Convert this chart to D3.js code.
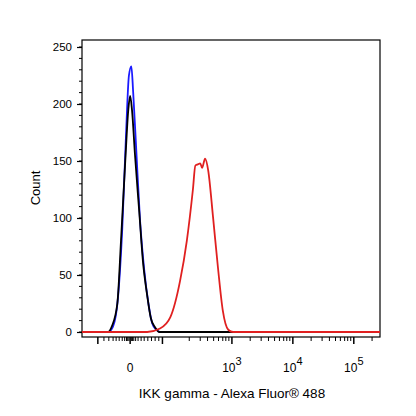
<!DOCTYPE html>
<html><head><meta charset="utf-8">
<script src="https://cdn.jsdelivr.net/npm/d3@7"></script>
<style>body{margin:0;background:#fff}text{font-family:"Liberation Sans",Arial,sans-serif}</style>
</head><body><svg id="c" width="416" height="416"></svg>
<script>
// x values are in display units: 10^3 = 3, 10^4 = 4, 10^5 = 5, "0" = 1.33
var blueX=[0.54,0.97,1.05,1.13,1.20,1.26,1.31,1.35,1.38,1.43,1.49,1.56,1.63,1.69,1.76,1.82,5.43];
var blueY=[0,0,5,30,90,170,225,233,210,160,100,55,25,8,2,0,0];
var blackX=[0.54,0.97,1.03,1.12,1.18,1.25,1.30,1.33,1.36,1.41,1.48,1.54,1.61,1.67,1.74,1.81,5.43];
var blackY=[0,0,5,25,80,150,195,207,195,155,105,62,32,12,4,0,0];
var redX=[0.54,1.61,1.82,1.99,2.15,2.26,2.36,2.40,2.44,2.48,2.51,2.56,2.61,2.69,2.77,2.85,2.94,3.02,5.43];
var redY=[0,0,3,13,45,80,125,146,147,148,144,152,142,101,57,19,2,0,0];
var yTicks=[0,50,100,150,200,250];
var xMajor=[0.8,1.33,1.86,3,4,5];
var xLabels=[[1.33,"0",null],[3,"10","3"],[4,"10","4"],[5,"10","5"]];
var xMinor=[0.9,0.98,1.05,1.1,1.15,1.2,1.24,1.27,1.29,1.31,1.35,1.37,1.39,1.42,1.46,1.51,1.56,1.62,1.68,1.74,1.8,
  2.3,2.48,2.6,2.7,2.78,2.85,2.9,2.95,3.3,3.48,3.6,3.7,3.78,3.85,3.9,3.95,4.3,4.48,4.6,4.7,4.78,4.85,4.9,4.95,5.3];

var svg=d3.select("#c");
var L=82,R=380,T=40,B=337;
var x=d3.scaleLinear().domain([0.54,5.43]).range([L,R]);
var y=d3.scaleLinear().domain([0,250]).range([332,47]);

svg.append("rect").attr("x",L).attr("y",T).attr("width",R-L).attr("height",B-T)
  .attr("fill","none").attr("stroke","#000").attr("stroke-width",1.2);

// y axis
var ya=d3.axisLeft(y).tickValues(yTicks).tickSize(5).tickSizeOuter(0);
var gy=svg.append("g").attr("transform","translate("+L+",0)").call(ya);
gy.select(".domain").remove();
gy.selectAll("text").attr("font-size",11.5).attr("x",-10);
gy.selectAll("line").attr("stroke-width",1.2);
svg.append("g").attr("transform","translate("+L+",0)").selectAll("line")
  .data(d3.range(0,251,10)).enter().append("line")
  .attr("x1",-3).attr("x2",0).attr("y1",function(d){return y(d);}).attr("y2",function(d){return y(d);})
  .attr("stroke","#000");

// x axis ticks
var gx=svg.append("g").attr("transform","translate(0,"+B+")");
gx.selectAll("line.maj").data(xMajor).enter().append("line").attr("class","maj")
  .attr("x1",function(d){return x(d);}).attr("x2",function(d){return x(d);})
  .attr("y1",0).attr("y2",7).attr("stroke","#000").attr("stroke-width",1.5);
gx.selectAll("line.min").data(xMinor).enter().append("line").attr("class","min")
  .attr("x1",function(d){return x(d);}).attr("x2",function(d){return x(d);})
  .attr("y1",0).attr("y2",4).attr("stroke","#000");
xLabels.forEach(function(l){
  var t=svg.append("text").attr("x",x(l[0])).attr("y",372).attr("font-size",12).attr("text-anchor","middle").text(l[1]);
  if(l[2]) t.append("tspan").attr("dy",-7).attr("font-size",11).text(l[2]);
});

svg.append("text").attr("x",232).attr("y",398).attr("text-anchor","middle").attr("font-size",13.5)
  .text("IKK gamma - Alexa Fluor® 488");
svg.append("text").attr("transform","translate(40,188) rotate(-90)").attr("text-anchor","middle")
  .attr("font-size",13).text("Count");

var line=d3.line().x(function(d){return x(d[0]);}).y(function(d){return y(d[1]);}).curve(d3.curveMonotoneX);
function draw(xs,ys,col){
  svg.append("path").datum(xs.map(function(v,i){return [v,ys[i]];}))
    .attr("d",line).attr("fill","none").attr("stroke",col).attr("stroke-width",1.8);
}
draw(blueX,blueY,"#1a1aff");
draw(blackX,blackY,"#000");
draw(redX,redY,"#e02020");
</script></body></html>
